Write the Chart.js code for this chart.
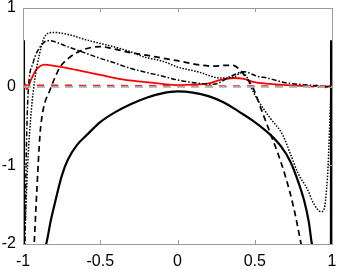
<!DOCTYPE html>
<html>
<head>
<meta charset="utf-8">
<script src="https://cdn.jsdelivr.net/npm/chart.js@4"></script>
<style>
  html, body { margin: 0; padding: 0; background: #ffffff; }
  #chart { display: block; }
</style>
</head>
<body>
<canvas id="chart" width="338" height="270"></canvas>
<script>
// axis ticks
const xTicks = [-1, -0.5, 0, 0.5, 1];
const yTicks = [-2, -1, 0, 1];

// solid black curve
const solidX = [-0.994, -0.993, -0.85, -0.82, -0.79, -0.75, -0.71, -0.65, -0.585, -0.5, -0.4, -0.3, -0.2, -0.1, 0, 0.1, 0.2, 0.3, 0.4, 0.5, 0.6, 0.67, 0.73, 0.78, 0.82, 0.85, 0.87, 0.993, 0.994];
const solidY = [0.59, -2.6, -2.0, -1.7, -1.45, -1.14, -0.93, -0.74, -0.61, -0.45, -0.32, -0.22, -0.14, -0.085, -0.06, -0.075, -0.12, -0.2, -0.32, -0.45, -0.61, -0.76, -0.95, -1.2, -1.45, -1.72, -2.0, -2.6, 0.59];

// dashed black curve
const dashX = [-0.93, -0.91, -0.89, -0.87, -0.825, -0.79, -0.76, -0.7, -0.61, -0.5, -0.435, -0.3, -0.2, -0.09, 0, 0.13, 0.234, 0.3, 0.36, 0.4, 0.45, 0.485, 0.55, 0.604, 0.65, 0.7, 0.75, 0.8, 0.82, 0.995, 0.996];
const dashY = [-2.1, -1.3, -0.61, -0.3, -0.04, 0.13, 0.25, 0.37, 0.47, 0.51, 0.49, 0.43, 0.4, 0.36, 0.33, 0.28, 0.26, 0.27, 0.27, 0.22, 0.1, 0.0, -0.33, -0.61, -0.85, -1.15, -1.52, -2.0, -2.2, -2.6, 0.0];

// dotted black curve
const dotX = [-0.985, -0.97, -0.946, -0.924, -0.892, -0.86, -0.805, -0.7, -0.6, -0.5, -0.38, -0.305, -0.22, -0.09, 0, 0.13, 0.28, 0.36, 0.42, 0.45, 0.474, 0.52, 0.6, 0.68, 0.73, 0.78, 0.84, 0.88, 0.93, 0.95, 0.965, 0.975, 0.985, 0.995];
const dotY = [-1.74, -1.0, -0.3, 0.085, 0.425, 0.635, 0.69, 0.66, 0.6, 0.55, 0.49, 0.445, 0.38, 0.32, 0.25, 0.19, 0.11, 0.12, 0.18, 0.12, 0.0, -0.17, -0.4, -0.61, -0.85, -1.1, -1.3, -1.48, -1.59, -1.55, -1.3, -1.0, -0.5, 0.0];

// dash-dot black curve
const dashDotX = [-0.99, -0.98, -0.968, -0.935, -0.88, -0.838, -0.7, -0.6, -0.5, -0.435, -0.305, -0.22, -0.09, 0, 0.13, 0.234, 0.344, 0.43, 0.52, 0.58, 0.7, 0.85, 1];
const dashDotY = [-2.5, -1.0, -0.13, 0.3, 0.53, 0.585, 0.5, 0.43, 0.36, 0.32, 0.233, 0.19, 0.13, 0.085, 0.045, 0.03, 0.13, 0.19, 0.13, 0.11, 0.05, 0.02, 0.0];

// red solid curve
const redX = [-1, -0.975, -0.95, -0.92, -0.89, -0.86, -0.8, -0.72, -0.6, -0.5, -0.38, -0.22, -0.1, 0, 0.1, 0.21, 0.28, 0.36, 0.43, 0.49, 0.6, 0.71, 0.8, 0.88, 0.9, 0.92, 0.94, 0.96, 0.98, 1];
const redY = [0.11, -0.03, 0.08, 0.2, 0.26, 0.28, 0.265, 0.24, 0.19, 0.15, 0.1, 0.06, 0.035, 0.02, 0.025, 0.045, 0.085, 0.11, 0.1, 0.06, 0.035, 0.02, 0.01, 0.0, 0.015, -0.005, 0.01, -0.01, 0.005, 0.02];

// red dashed curve
const redDashX = [-1, -0.5, 0, 0.5, 1];
const redDashY = [0.02, 0.015, 0.01, 0.01, 0.0];

// gray dashed zero line
const grayX = [-1, 1];
const grayY = [0, 0];

function pts(xs, ys) {
  return xs.map((x, i) => ({ x: x, y: ys[i] }));
}

function line(data, color, width, dash) {
  return {
    data: data,
    borderColor: color,
    borderWidth: width,
    borderDash: dash,
    pointRadius: 0,
    fill: false,
    showLine: true,
    cubicInterpolationMode: "monotone",
  };
}

// frame with inner tick marks
const framePlugin = {
  id: "frame",
  afterDraw(chart) {
    const ctx = chart.ctx;
    const a = chart.chartArea;
    const xs = chart.scales.x;
    const ys = chart.scales.y;
    ctx.save();
    ctx.strokeStyle = "#9a9a9a";
    ctx.lineWidth = 1;
    ctx.strokeRect(a.left + 0.5, a.top + 0.5, a.right - a.left, a.bottom - a.top);
    ctx.beginPath();
    xTicks.forEach((t) => {
      const px = Math.round(xs.getPixelForValue(t)) + 0.5;
      ctx.moveTo(px, a.bottom);
      ctx.lineTo(px, a.bottom - 4);
      ctx.moveTo(px, a.top);
      ctx.lineTo(px, a.top + 4);
    });
    yTicks.forEach((t) => {
      const py = Math.round(ys.getPixelForValue(t)) + 0.5;
      ctx.moveTo(a.left, py);
      ctx.lineTo(a.left + 4, py);
      ctx.moveTo(a.right, py);
      ctx.lineTo(a.right - 4, py);
    });
    ctx.stroke();
    ctx.restore();
  },
};

const tickFont = { family: "'Liberation Sans', Arial, sans-serif", size: 16 };

new Chart(document.getElementById("chart"), {
  type: "scatter",
  data: {
    datasets: [
      line(pts(grayX, grayY), "#aaaaaa", 2, [8, 6]),
      line(pts(redDashX, redDashY), "#ff0000", 1.5, [7, 7]),
      line(pts(solidX, solidY), "#000000", 2.2, []),
      line(pts(dashX, dashY), "#000000", 1.7, [6, 4]),
      line(pts(dotX, dotY), "#000000", 1.5, [1.5, 1.5]),
      line(pts(dashDotX, dashDotY), "#000000", 1.5, [5, 2, 1.5, 2]),
      line(pts(redX, redY), "#ff0000", 1.8, []),
    ],
  },
  options: {
    responsive: false,
    animation: false,
    devicePixelRatio: 1,
    layout: { padding: { top: 8, right: 0, left: 0, bottom: 0 } },
    plugins: { legend: { display: false }, tooltip: { enabled: false } },
    scales: {
      x: {
        type: "linear",
        min: -1,
        max: 1,
        afterBuildTicks: (s) => { s.ticks = xTicks.map((v) => ({ value: v })); },
        afterFit: (s) => { s.height = 26; s.paddingLeft = 0; s.paddingRight = 6; },
        grid: { display: false, drawTicks: false },
        border: { display: false },
        ticks: { color: "#000000", font: tickFont, padding: 8, maxRotation: 0, callback: (v) => String(v) },
      },
      y: {
        type: "linear",
        min: -2,
        max: 1,
        afterBuildTicks: (s) => { s.ticks = yTicks.map((v) => ({ value: v })); },
        afterFit: (s) => { s.width = 23; s.paddingTop = 0; s.paddingBottom = 0; },
        grid: { display: false, drawTicks: false },
        border: { display: false },
        ticks: { color: "#000000", font: tickFont, padding: 7, callback: (v) => String(v) },
      },
    },
  },
  plugins: [framePlugin],
});
</script>
</body>
</html>
